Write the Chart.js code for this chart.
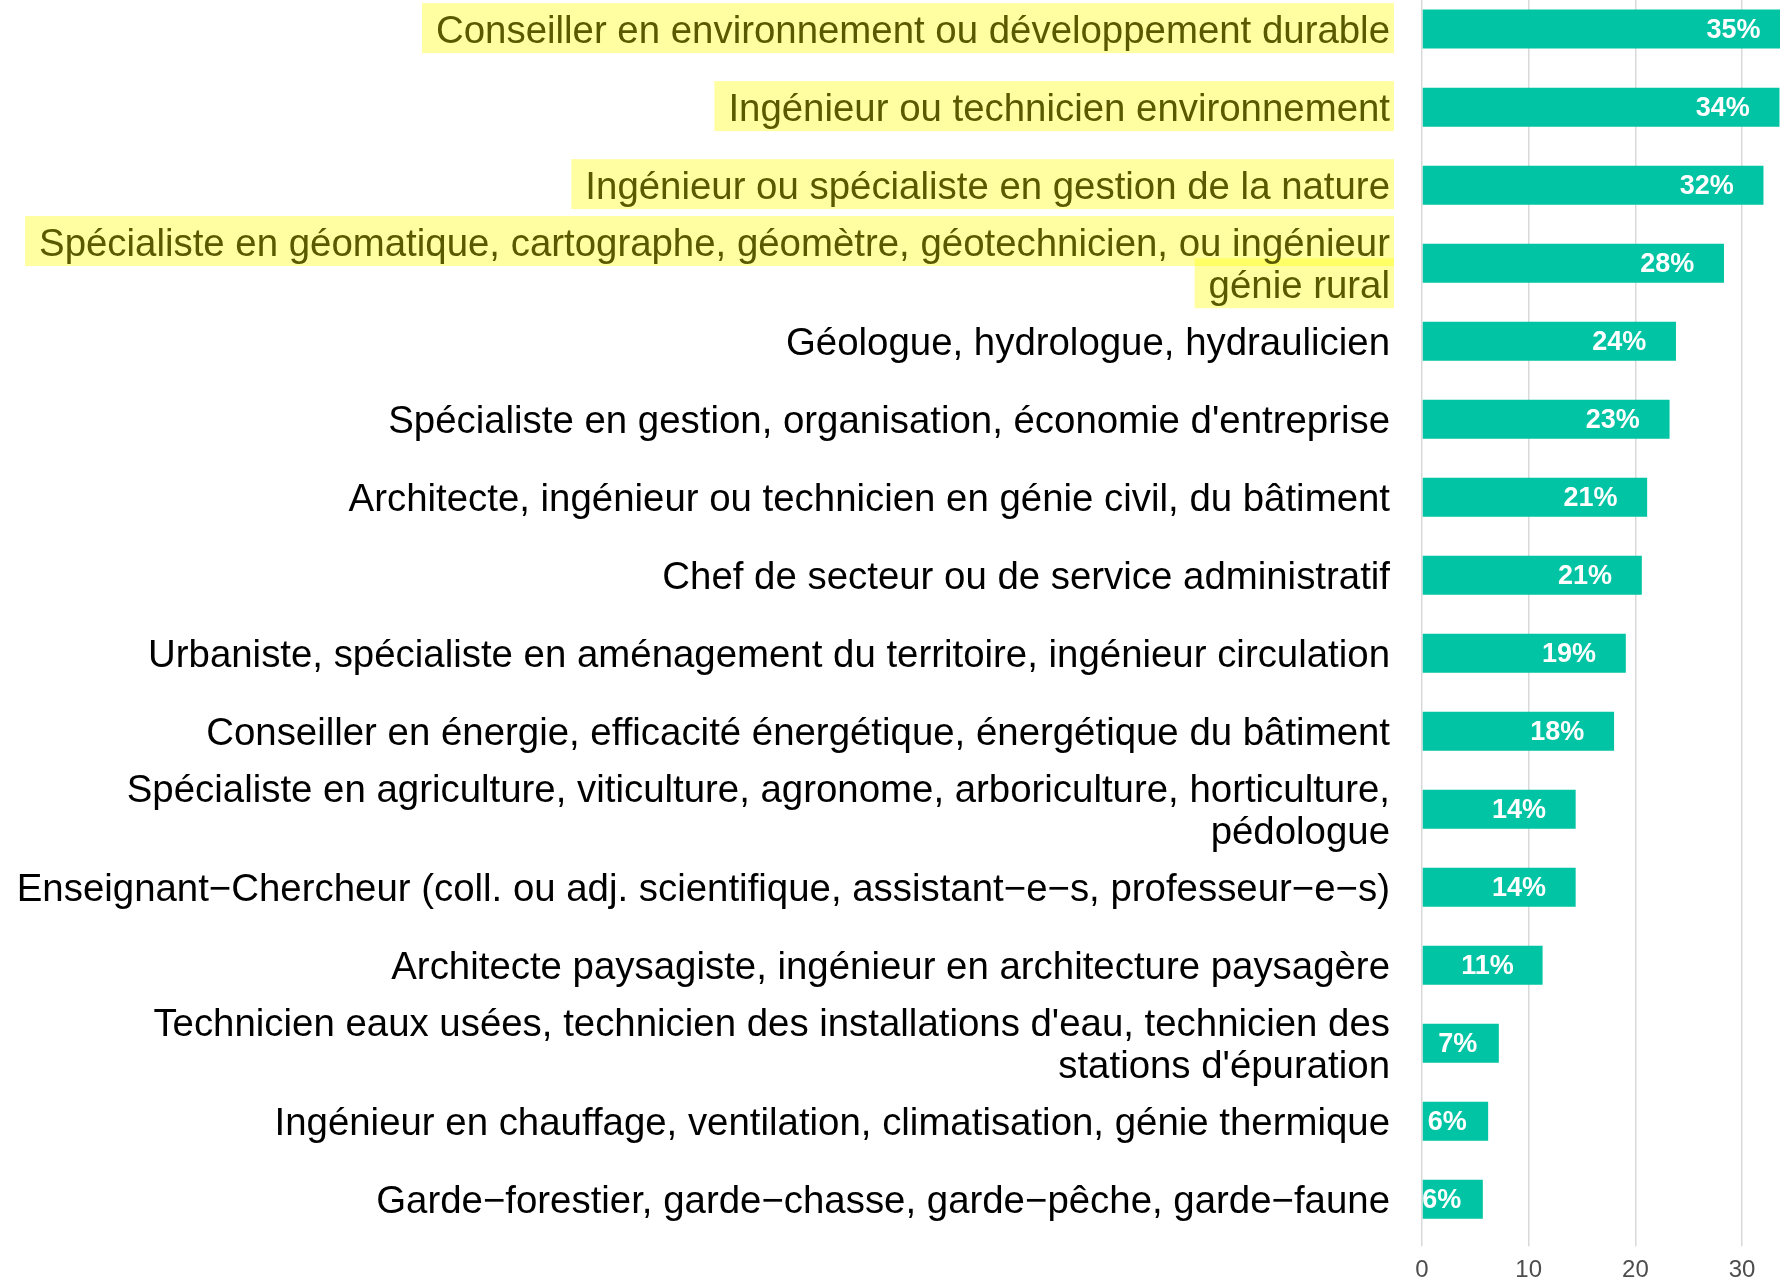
<!DOCTYPE html>
<html>
<head>
<meta charset="utf-8">
<script src="https://cdn.jsdelivr.net/npm/chart.js@4.4.0/dist/chart.umd.min.js"></script>
<style>
    html, body { margin: 0; padding: 0; background: #ffffff; overflow: hidden; }
    #wrap { position: absolute; left: 0; top: -63px; width: 1780px; height: 1358px; }
</style>
</head>
<body>
<div id="wrap"><canvas id="metiersChart" width="1780" height="1358"></canvas></div>
<script>
// Métiers (une entrée en tableau = libellé sur deux lignes)
const categories = [
    "Conseiller en environnement ou développement durable",
    "Ingénieur ou technicien environnement",
    "Ingénieur ou spécialiste en gestion de la nature",
    ["Spécialiste en géomatique, cartographe, géomètre, géotechnicien, ou ingénieur", "génie rural"],
    "Géologue, hydrologue, hydraulicien",
    "Spécialiste en gestion, organisation, économie d'entreprise",
    "Architecte, ingénieur ou technicien en génie civil, du bâtiment",
    "Chef de secteur ou de service administratif",
    "Urbaniste, spécialiste en aménagement du territoire, ingénieur circulation",
    "Conseiller en énergie, efficacité énergétique, énergétique du bâtiment",
    ["Spécialiste en agriculture, viticulture, agronome, arboriculture, horticulture,", "pédologue"],
    "Enseignant−Chercheur (coll. ou adj. scientifique, assistant−e−s, professeur−e−s)",
    "Architecte paysagiste, ingénieur en architecture paysagère",
    ["Technicien eaux usées, technicien des installations d'eau, technicien des", "stations d'épuration"],
    "Ingénieur en chauffage, ventilation, climatisation, génie thermique",
    "Garde−forestier, garde−chasse, garde−pêche, garde−faune"
];

// Part en %
const values = [34.5, 33.5, 32.0, 28.3, 23.8, 23.2, 21.1, 20.6, 19.1, 18.0, 14.4, 14.4, 11.3, 7.2, 6.2, 5.7];

// Libellés surlignés au marqueur jaune
const highlighted = [true, true, true, true, false, false, false, false, false, false, false, false, false, false, false, false];

const xTicks = [0, 10, 20, 30];

const FONT = '"Liberation Sans", Arial, sans-serif';
const LABEL_SIZE = 38.4;
const LABEL_LINE = 1.1;
const LABEL_PAD = 32;
const LABEL_SHIFT = 3;

Chart.defaults.font.family = FONT;

// Surlignage derrière les libellés
const highlighter = {
    id: 'highlighter',
    beforeDraw(chart) {
        const yScale = chart.scales.y;
        const ctx = chart.ctx;
        ctx.save();
        ctx.font = LABEL_SIZE + 'px ' + FONT;
        ctx.fillStyle = 'rgba(255, 255, 0, 0.37)';
        const right = yScale.right - LABEL_PAD;
        const step = LABEL_SIZE * LABEL_LINE;
        categories.forEach(function(lab, i) {
            if (!highlighted[i]) return;
            const lines = Array.isArray(lab) ? lab : [lab];
            const cy = yScale.getPixelForTick(i) + LABEL_SHIFT;
            lines.forEach(function(line, k) {
                const ly = cy + (k - (lines.length - 1) / 2) * step;
                const w = ctx.measureText(line).width;
                ctx.fillRect(right - w - 14, ly - 29, w + 18, 50);
            });
        });
        ctx.restore();
    }
};

// Pourcentages en blanc dans les barres
const barLabels = {
    id: 'barLabels',
    afterDatasetsDraw(chart) {
        const ctx = chart.ctx;
        const meta = chart.getDatasetMeta(0);
        ctx.save();
        ctx.font = 'bold 27px ' + FONT;
        ctx.fillStyle = '#ffffff';
        ctx.textAlign = 'left';
        ctx.textBaseline = 'middle';
        meta.data.forEach(function(bar, i) {
            const txt = Math.round(values[i]) + '%';
            const w = ctx.measureText(txt).width;
            ctx.fillText(txt, bar.x - 1.55 * w, bar.y + 1);
        });
        ctx.restore();
    }
};

var ctxMetiers = document.getElementById("metiersChart");
var metiersChart = new Chart(ctxMetiers, {
    type: 'bar',
    data: {
        labels: categories,
        datasets: [{
            data: values,
            backgroundColor: '#00C4A3',
            borderWidth: 0,
            barPercentage: 1.0,
            categoryPercentage: 0.5
        }]
    },
    options: {
        indexAxis: 'y',
        responsive: false,
        animation: false,
        layout: { padding: 0 },
        plugins: {
            legend: { display: false },
            tooltip: { enabled: false }
        },
        scales: {
            x: {
                type: 'linear',
                min: 0,
                max: 33.55,
                afterBuildTicks: function(scale) {
                    scale.ticks = xTicks.map(function(v) { return { value: v }; });
                },
                grid: {
                    color: '#d9d9d9',
                    lineWidth: 1.5,
                    drawTicks: true,
                    tickLength: 8
                },
                border: { display: false },
                ticks: {
                    color: '#4d4d4d',
                    padding: 10,
                    font: { size: 24 },
                    maxRotation: 0
                }
            },
            y: {
                afterFit: function(scale) {
                    scale.width = 1422;
                },
                grid: { display: false, drawTicks: false },
                border: { display: false },
                ticks: {
                    autoSkip: false,
                    padding: LABEL_PAD,
                    labelOffset: LABEL_SHIFT,
                    font: { size: LABEL_SIZE, lineHeight: LABEL_LINE },
                    color: function(c) {
                        return highlighted[c.index] ? '#595900' : '#000000';
                    }
                }
            }
        }
    },
    plugins: [highlighter, barLabels]
});
</script>
</body>
</html>
